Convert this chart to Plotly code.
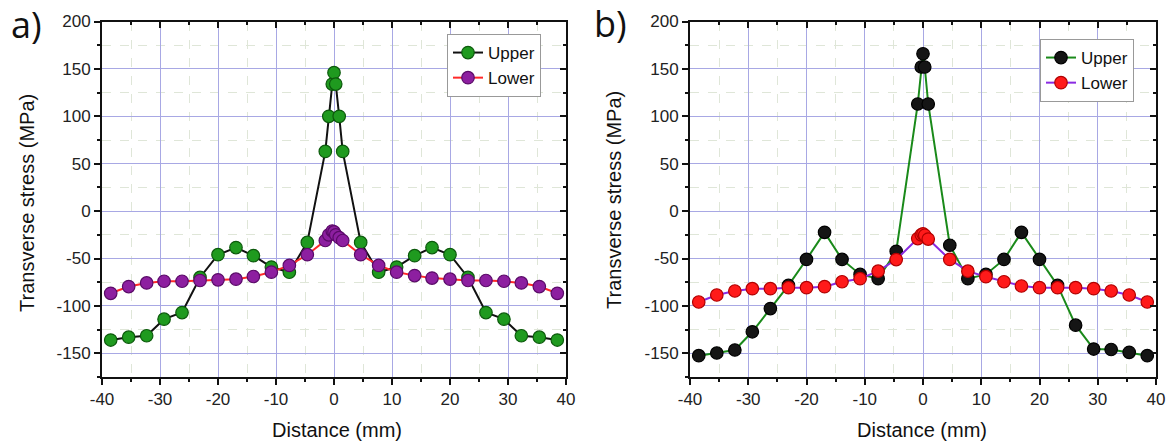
import plotly.graph_objects as go

W, H = 1171, 444

# ---------------- data ----------------
x_a = [-38.5, -35.4, -32.3, -29.3, -26.2, -23.1, -20.0, -16.9, -13.9, -10.8, -7.7, -4.6,
       -1.5, -0.9, -0.3, 0.0, 0.3, 0.9, 1.5,
       4.6, 7.7, 10.8, 13.9, 16.9, 20.0, 23.1, 26.2, 29.3, 32.3, 35.4, 38.5]
upper_a = [-136, -133, -131.5, -114, -107, -70, -46, -38.5, -47, -59, -64.5, -33,
           63, 100, 134, 146, 134, 100, 63,
           -33, -64.5, -59, -47, -38.5, -46, -70, -107, -114, -131.5, -133, -136]
lower_a = [-86.7, -79.6, -75.8, -74, -74, -73.2, -72.5, -71.8, -69, -64.4, -57.3, -46,
           -31, -25, -21, -22, -25, -28, -31,
           -46, -57.3, -64.4, -68, -70.7, -71.8, -73.2, -73.2, -74, -75.8, -79.6, -86.7]

x_b = [-38.5, -35.4, -32.3, -29.3, -26.2, -23.1, -20.0, -16.9, -13.9, -10.8, -7.7, -4.6,
       -0.9, -0.3, 0.0, 0.3, 0.9,
       4.6, 7.7, 10.8, 13.9, 16.9, 20.0, 23.1, 26.2, 29.3, 32.3, 35.4, 38.5]
upper_b = [-152.5, -149.7, -146.5, -127.3, -102.8, -78.4, -51, -22.4, -51, -66.8, -71.3, -42.4,
           113, 152, 166, 152, 113,
           -36, -71.3, -66.8, -51, -22.4, -51, -78.4, -120.3, -145.5, -146, -149, -152.5]
lower_b = [-95.9, -88.5, -84.3, -81.8, -81.8, -80.8, -80.8, -79.7, -74.5, -71.3, -63.4, -51.1,
           -29, -25, -24, -25.5, -29.5,
           -51, -63.4, -69.2, -74.5, -79, -80.8, -80.8, -80.8, -81.8, -84.3, -88.5, -95.9]

series_names = ["Upper", "Lower"]
x_ticks = [-40, -30, -20, -10, 0, 10, 20, 30, 40]
x_ticktext = ["-40", "-30", "-20", "-10", "0", "10", "20", "30", "40"]
y_ticks = [-150, -100, -50, 0, 50, 100, 150, 200]
y_ticktext = ["-150", "-100", "-50", "0", "50", "100", "150", "200"]
x_range = [-40, 40]
y_range = [-175, 200]

# ---------------- figure ----------------
fig = go.Figure()

def add_series(x, y, name, line_color, mk_color, mk_line, xa, ya, legend):
    fig.add_trace(go.Scatter(
        x=x, y=y, name=name, mode="lines+markers",
        line=dict(color=line_color, width=2),
        marker=dict(symbol="circle", size=12.5, color=mk_color,
                    line=dict(color=mk_line, width=1.2)),
        xaxis=xa, yaxis=ya, legend=legend))

add_series(x_a, upper_a, series_names[0], "#111111", "#1f9a1f", "#0c5a0c", "x", "y", "legend")
add_series(x_a, lower_a, series_names[1], "#ff2a2a", "#8d1fa0", "#5a0a68", "x", "y", "legend")
add_series(x_b, upper_b, series_names[0], "#1a8a1a", "#151515", "#000000", "x2", "y2", "legend2")
add_series(x_b, lower_b, series_names[1], "#8a2be2", "#ff1a1a", "#b00000", "x2", "y2", "legend2")

# invisible traces so the mirror (inside-tick) axes are drawn
for xa, ya, xs in (("x3", "y3", x_a), ("x4", "y4", x_b)):
    fig.add_trace(go.Scatter(x=xs, y=[None] * len(xs), mode="lines",
                             xaxis=xa, yaxis=ya, showlegend=False, hoverinfo="skip",
                             line=dict(width=0)))

ydom = [1 - 377 / H, 1 - 21.5 / H]
xdom_a = [102 / W, 566 / W]
xdom_b = [690 / W, 1156 / W]

tickfont = dict(family="Liberation Sans, Arial, sans-serif", size=17, color="#222222")
major_grid = "#a8a8e4"
minor_grid = "#dfe6d8"

def xaxis_main(dom, anchor):
    return dict(domain=dom, anchor=anchor, range=x_range, tickvals=x_ticks, ticktext=x_ticktext,
                ticks="outside", ticklen=6, tickwidth=1.5, tickcolor="#111",
                showline=True, linecolor="#111", linewidth=2, automargin=False,
                showgrid=True, gridcolor=major_grid, gridwidth=1,
                zeroline=False, tickfont=tickfont,
                minor=dict(dtick=5, tick0=0, ticks="outside", ticklen=3, tickcolor="#111",
                           showgrid=True, gridcolor=minor_grid, griddash="dash", gridwidth=1))

def yaxis_main(dom, anchor):
    return dict(domain=dom, anchor=anchor, range=y_range, tickvals=y_ticks, ticktext=y_ticktext,
                ticks="outside", ticklen=6, tickwidth=1.5, tickcolor="#111",
                showline=True, linecolor="#111", linewidth=2, automargin=False,
                showgrid=True, gridcolor=major_grid, gridwidth=1,
                zeroline=False, tickfont=tickfont,
                minor=dict(dtick=25, tick0=0, ticks="outside", ticklen=3, tickcolor="#111",
                           showgrid=True, gridcolor=minor_grid, griddash="dash", gridwidth=1))

def xaxis_top(dom, anchor, over):
    return dict(domain=dom, anchor=anchor, overlaying=over, side="top", range=x_range,
                tickvals=x_ticks, ticks="inside", ticklen=6, tickwidth=1.5, tickcolor="#111",
                showticklabels=False, showline=True, linecolor="#111", linewidth=2,
                showgrid=False, zeroline=False, automargin=False,
                minor=dict(dtick=5, tick0=0, ticks="inside", ticklen=3, tickcolor="#111"))

def yaxis_right(dom, anchor, over):
    return dict(domain=dom, anchor=anchor, overlaying=over, side="right", range=y_range,
                tickvals=y_ticks, ticks="inside", ticklen=6, tickwidth=1.5, tickcolor="#111",
                showticklabels=False, showline=True, linecolor="#111", linewidth=2,
                showgrid=False, zeroline=False, automargin=False,
                minor=dict(dtick=25, tick0=0, ticks="inside", ticklen=3, tickcolor="#111"))

legend_style = dict(bgcolor="white", bordercolor="#999999", borderwidth=1,
                    font=dict(family="Liberation Sans, Arial, sans-serif", size=17, color="#111"),
                    xanchor="left", yanchor="top", tracegroupgap=0, itemwidth=30)

fig.update_layout(
    width=W, height=H, margin=dict(l=0, r=0, t=0, b=0, pad=0, autoexpand=False),
    paper_bgcolor="white", plot_bgcolor="white", showlegend=True,
    xaxis=xaxis_main(xdom_a, "y"), yaxis=yaxis_main(ydom, "x"),
    xaxis2=xaxis_main(xdom_b, "y2"), yaxis2=yaxis_main(ydom, "x2"),
    xaxis3=xaxis_top(xdom_a, "y3", "x"), yaxis3=yaxis_right(ydom, "x3", "y"),
    xaxis4=xaxis_top(xdom_b, "y4", "x2"), yaxis4=yaxis_right(ydom, "x4", "y2"),
    legend=dict(x=447 / W, y=1 - 34 / H, **legend_style),
    legend2=dict(x=1040 / W, y=1 - 39 / H, **legend_style),
)

title_font = dict(family="Liberation Sans, Arial, sans-serif", size=20, color="#111")
label_font = dict(family="Open Sans, Liberation Sans, sans-serif", size=36, color="#111")
anns = [
    dict(text="Transverse stress (MPa)", x=27 / W, y=1 - 203 / H, textangle=-90, font=title_font),
    dict(text="Transverse stress (MPa)", x=614 / W, y=1 - 200 / H, textangle=-90, font=title_font),
    dict(text="Distance (mm)", x=337 / W, y=1 - 430 / H, font=title_font),
    dict(text="Distance (mm)", x=922 / W, y=1 - 430 / H, font=title_font),
    dict(text="a)", x=26 / W, y=1 - 24 / H, font=label_font),
    dict(text="b)", x=610 / W, y=1 - 23 / H, font=label_font),
]
for a in anns:
    fig.add_annotation(xref="paper", yref="paper", showarrow=False,
                       xanchor="center", yanchor="middle", **a)

fig.write_html("out.html", config={"displayModeBar": False},
               post_script="document.body.style.margin='0px';document.body.style.overflow='hidden';")
